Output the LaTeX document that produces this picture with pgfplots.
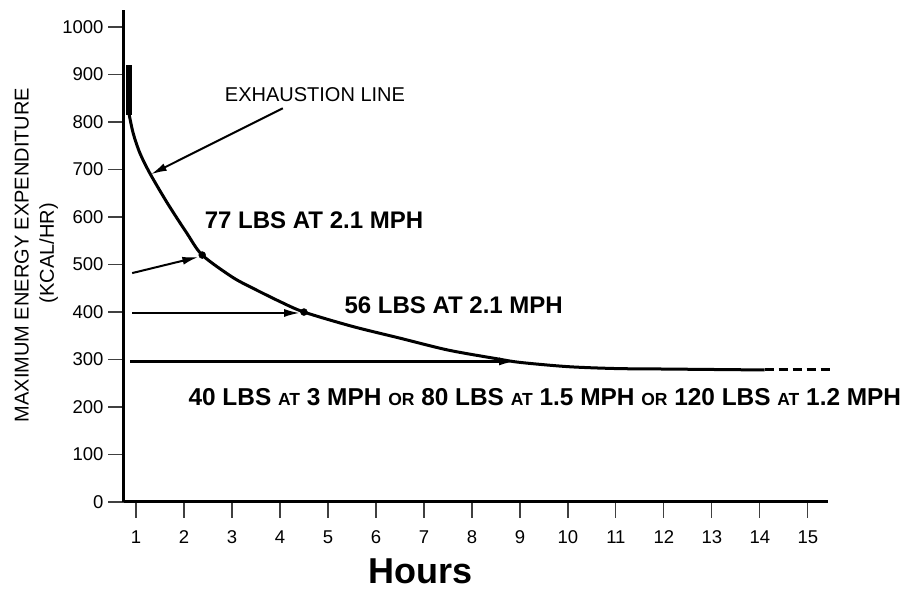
\documentclass[border=0pt]{standalone}
\usepackage{pgfplots}
\pgfplotsset{compat=1.18}
\usepackage{fontspec}
\setmainfont{Liberation Sans}
\usetikzlibrary{arrows.meta}
\newcommand{\sm}[1]{{\fontsize{17.5}{17.5}\selectfont #1}}
\begin{document}
\begin{tikzpicture}
\begin{axis}[
  at={(0,0)}, anchor=south west,
  scale only axis, width=704pt, height=492pt,
  xmin=0.75, xmax=15.42, ymin=0, ymax=1036,
  axis x line*=bottom, axis y line*=left,
  axis line style={-, line width=3pt, black},
  xtick={1,...,15}, ytick={0,100,...,1000},
  tick align=outside, major tick length=16pt,
  tick style={line width=1.2pt, black!75},
  /pgf/number format/assume math mode=true,
  /pgf/number format/set thousands separator={},
  ticklabel style={font=\fontsize{18.5}{18.5}\selectfont},
  xticklabel style={anchor=north, text height=13pt, text depth=0pt, inner sep=0pt, yshift=-12pt},
  yticklabel style={xshift=-1pt},
  clip=false,
]
% exhaustion curve
\addplot[line width=3pt, black, smooth, tension=0.5] coordinates {
 (0.85,820) (0.94,777) (1.08,735) (1.29,692) (1.65,630) (2.06,566) (2.38,520)
 (3.0,474) (3.4,452) (4.0,422) (4.5,400) (5.5,370) (6.5,345) (7.5,320)
 (8.5,302) (9.0,294) (10.0,285) (11,281) (12,280) (14.1,278)};
\addplot[line width=3pt, black, dash pattern=on 9pt off 5pt] coordinates {(14.1,278) (15.5,278)};
% thick bar near axis
\addplot[line width=6pt, black] coordinates {(0.85,920) (0.85,815)};
% arrows
\addplot[line width=2pt, black, -{Latex[length=16pt,width=8pt]}] coordinates {(4.06,829) (1.31,690)};
\addplot[line width=2pt, black, -{Latex[length=16pt,width=8pt]}] coordinates {(0.92,482) (2.3,516)};
\addplot[line width=2.2pt, black, -{Latex[length=16pt,width=8pt]}] coordinates {(0.92,398) (4.42,398)};
\addplot[line width=2.2pt, black, -{Latex[length=16pt,width=8pt]}] coordinates {(0.88,296) (8.9,296)};
% dots
\addplot[only marks, mark=*, mark size=3.5pt, black] coordinates {(2.38,520) (4.5,400)};
% labels
\node[font=\fontsize{20}{20}\selectfont] at (axis cs:4.73,857) {EXHAUSTION LINE};
\node[font=\bfseries\fontsize{24}{24}\selectfont] at (axis cs:4.71,594) {77 LBS AT 2.1 MPH};
\node[font=\bfseries\fontsize{24}{24}\selectfont] at (axis cs:7.62,415) {56 LBS AT 2.1 MPH};
\node[font=\bfseries\fontsize{24.4}{24.4}\selectfont] at (axis cs:9.52,221) {40 LBS \sm{AT} 3 MPH \sm{OR} 80 LBS \sm{AT} 1.5 MPH \sm{OR} 120 LBS \sm{AT} 1.2 MPH};
\node[inner sep=0pt, font=\bfseries\fontsize{36}{36}\selectfont] at (axis cs:6.92,-146) {Hours};
\node[rotate=90, inner sep=0pt, font=\fontsize{20}{20}\selectfont] at (axis cs:-1.38,520) {MAXIMUM ENERGY EXPENDITURE};
\node[rotate=90, inner sep=0pt, font=\fontsize{20}{20}\selectfont] at (axis cs:-0.82,524) {(KCAL/HR)};
\end{axis}
\pgfresetboundingbox
\path[use as bounding box] (-124pt,-89pt) rectangle (783pt,502pt);
\end{tikzpicture}
\end{document}
